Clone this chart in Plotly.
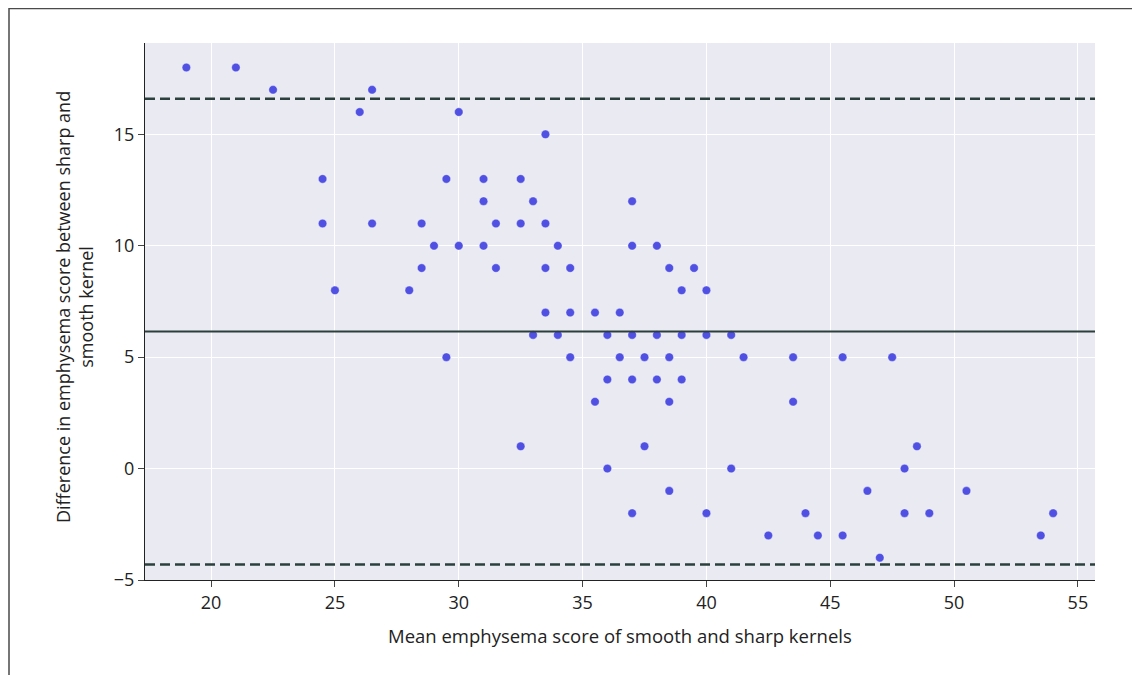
import plotly.graph_objects as go

mean_score = [19, 21, 22.5, 26.5, 26, 30, 33.5,
              24.5, 29.5, 31, 32.5,
              31, 33, 37,
              24.5, 26.5, 28.5, 31.5, 32.5, 33.5,
              29, 30, 31, 34, 37, 38,
              28.5, 31.5, 33.5, 34.5, 38.5, 39.5,
              25, 28, 39, 40,
              33.5, 34.5, 35.5, 36.5,
              33, 34, 36, 37, 38, 39, 40, 41,
              29.5, 34.5, 36.5, 37.5, 38.5, 41.5, 43.5, 45.5, 47.5,
              36, 37, 38, 39,
              35.5, 38.5, 43.5,
              32.5, 37.5, 48.5,
              36, 41, 48,
              38.5, 46.5, 50.5,
              37, 40, 44, 48, 49, 54,
              42.5, 44.5, 45.5, 53.5,
              47]
diff_score = [18, 18, 17, 17, 16, 16, 15,
              13, 13, 13, 13,
              12, 12, 12,
              11, 11, 11, 11, 11, 11,
              10, 10, 10, 10, 10, 10,
              9, 9, 9, 9, 9, 9,
              8, 8, 8, 8,
              7, 7, 7, 7,
              6, 6, 6, 6, 6, 6, 6, 6,
              5, 5, 5, 5, 5, 5, 5, 5, 5,
              4, 4, 4, 4,
              3, 3, 3,
              1, 1, 1,
              0, 0, 0,
              -1, -1, -1,
              -2, -2, -2, -2, -2, -2,
              -3, -3, -3, -3,
              -4]

mean_diff = 6.15
limits_of_agreement = [16.6, -4.3]

x_ticks = [20, 25, 30, 35, 40, 45, 50, 55]
y_ticks = [-5, 0, 5, 10, 15]
y_ticktext = ["\u22125", "0", "5", "10", "15"]

x_title = "Mean emphysema score of smooth and sharp kernels"
y_title = "Difference in emphysema score between sharp and<br>smooth kernel"

FONT = "Open Sans, Noto Sans, sans-serif"
LINE_COLOR = "#2B3F3C"
OFF = 8  # page body margin

fig = go.Figure()
fig.add_trace(go.Scatter(
    x=mean_score, y=diff_score, mode="markers",
    marker=dict(size=8.5, color="#5050E3", line=dict(width=0.6, color="rgba(255,255,255,0.6)")),
    showlegend=False,
))

fig.add_hline(y=mean_diff, line=dict(color=LINE_COLOR, width=2))
for lim in limits_of_agreement:
    fig.add_hline(y=lim, line=dict(color=LINE_COLOR, width=2.5, dash="10px,5px"))

# target screen positions of the plot area
L, R, T, B = 145, 1095, 43, 580
W, H = R - L, B - T
FW, FH = 1130, 667  # keeps the page free of scrollbars

def px_x(p):
    return (p - L) / W

def px_y(p):
    return (B - p) / H

fig.add_shape(type="rect", xref="paper", yref="paper",
              x0=px_x(9), x1=px_x(1137), y0=px_y(720), y1=px_y(8.6),
              line=dict(color="#4a4a4a", width=1.5), fillcolor="rgba(0,0,0,0)", layer="above")

fig.add_annotation(text=y_title, xref="paper", yref="paper",
                   x=px_x(74), y=px_y(307), textangle=-90, showarrow=False,
                   font=dict(size=18, color="#222", family=FONT), align="center",
                   xanchor="center", yanchor="middle")

fig.add_annotation(text=x_title, xref="paper", yref="paper",
                   x=px_x(620), y=px_y(636), showarrow=False,
                   font=dict(size=18.5, color="#222", family=FONT),
                   xanchor="center", yanchor="middle")

fig.update_layout(
    width=FW, height=FH,
    margin=dict(l=L - OFF, r=FW - (R - OFF), t=T - OFF, b=FH - (B - OFF)),
    paper_bgcolor="white",
    plot_bgcolor="#EAEAF2",
    font=dict(family=FONT, size=18, color="#222"),
    xaxis=dict(
        range=[17.33, 55.69], tickvals=x_ticks, showgrid=True, gridcolor="white", gridwidth=1.2,
        zeroline=False, showline=True, linecolor="#222", linewidth=1,
        ticks="outside", ticklen=6, tickcolor="#444",
        tickfont=dict(size=18),
    ),
    yaxis=dict(
        range=[-5, 19.1], tickvals=y_ticks, ticktext=y_ticktext,
        showgrid=True, gridcolor="white", gridwidth=1.2,
        zeroline=False, showline=True, linecolor="#222", linewidth=1,
        ticks="outside", ticklen=6, tickcolor="#444",
        tickfont=dict(size=18),
    ),
)

fig.write_html("out.html")
